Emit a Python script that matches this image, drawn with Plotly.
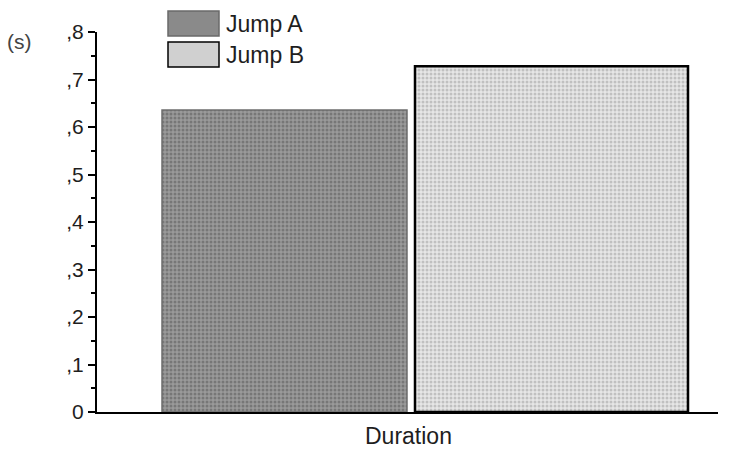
import plotly.graph_objects as go

# Data
series_names = ["Jump A", "Jump B"]
series_values = [0.636, 0.728]
category = "Duration"
tick_values = [0, 0.1, 0.2, 0.3, 0.4, 0.5, 0.6, 0.7, 0.8]
tick_labels = ["0", ",1", ",2", ",3", ",4", ",5", ",6", ",7", ",8"]
unit_label = "(s)"

FONT = "Liberation Sans, Arial, Helvetica, sans-serif"

# plot area: x 97..718, y 32..412 (pixels)
PW, PH = 621.0, 380.0

def px(x):
    return (x - 97) / PW

def py(y):
    return (412 - y) / PH

# bar geometry on a numeric x axis spanning [0, 1]
centers = [px((162 + 407) / 2), px((415 + 688) / 2)]
widths = [245 / PW, 273 / PW]
fills = [
    dict(bg="#9a9a9a", fg="#545454", line="#6e6e6e", lw=1.5, swatch="#8a8a8a", sline="#6a6a6a"),
    dict(bg="#e6e6e6", fg="#9a9a9a", line="#000000", lw=2.5, swatch="#d0d0d0", sline="#000000"),
]

fig = go.Figure()
for name, val, c, w, f in zip(series_names, series_values, centers, widths, fills):
    fig.add_trace(go.Bar(
        x=[c], y=[val], width=[w], name=name, showlegend=False,
        marker=dict(
            color=f["bg"],
            line=dict(color=f["line"], width=f["lw"]),
            pattern=dict(shape=".", size=4, solidity=0.45,
                         fgcolor=f["fg"], bgcolor=f["bg"], fillmode="overlay"),
        ),
    ))

# Manual legend (swatch + text)
legend_rows = [(11, 36, 24), (42, 67, 55)]
for name, f, (ya, yb, yt) in zip(series_names, fills, legend_rows):
    fig.add_shape(type="rect", xref="paper", yref="paper",
                  x0=px(168), x1=px(219), y0=py(yb), y1=py(ya),
                  fillcolor=f["swatch"], line=dict(color=f["sline"], width=1.5))
    fig.add_annotation(xref="paper", yref="paper", x=px(224), y=py(yt), text=name,
                       showarrow=False, xanchor="left", yanchor="middle",
                       font=dict(family=FONT, size=23, color="#1e1e1e"))

fig.add_annotation(xref="paper", yref="paper", x=px(5), y=py(42), text=unit_label,
                   showarrow=False, xanchor="left", yanchor="middle",
                   font=dict(family=FONT, size=21, color="#444444"))
fig.add_annotation(xref="paper", yref="paper", x=px(408), y=py(436), text=category,
                   showarrow=False, xanchor="center", yanchor="middle",
                   font=dict(family=FONT, size=23, color="#1e1e1e"))

fig.update_layout(
    width=730, height=451,
    margin=dict(l=97, r=12, t=32, b=39),
    paper_bgcolor="white", plot_bgcolor="white",
    barmode="overlay",
    xaxis=dict(range=[0, 1], showgrid=False, zeroline=False, showticklabels=False,
               ticks="", showline=True, linecolor="black", linewidth=2),
    yaxis=dict(range=[0, 0.8], showgrid=False, zeroline=False,
               tickvals=tick_values, ticktext=tick_labels,
               ticks="outside", ticklen=7, tickwidth=2, tickcolor="black",
               showline=True, linecolor="black", linewidth=2,
               tickfont=dict(family=FONT, size=21, color="#1e1e1e"),
               minor=dict(dtick=0.05, ticks="outside", ticklen=4, tickwidth=2,
                          tickcolor="black", showgrid=False)),
    font=dict(family=FONT),
)

fig.write_html("out.html", config={"displayModeBar": False},
               post_script="document.body.style.margin='0';document.body.style.overflow='hidden';")
